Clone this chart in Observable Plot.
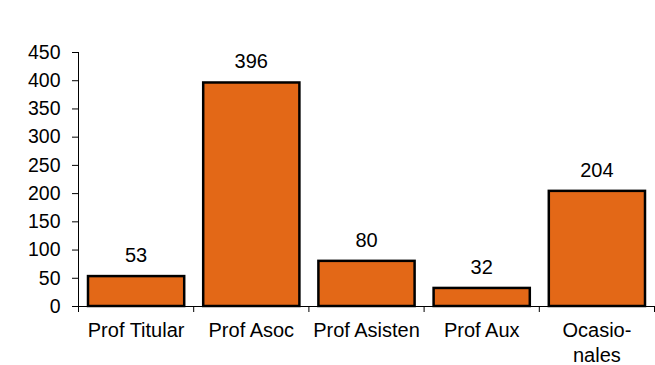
<!DOCTYPE html>
<html>
<head>
<meta charset="utf-8">
<script src="https://cdn.jsdelivr.net/npm/d3@7"></script>
<script src="https://cdn.jsdelivr.net/npm/@observablehq/plot@0.6"></script>
<style>
  html, body { margin: 0; padding: 0; background: #fff; }
  svg { font-family: "Liberation Sans", Arial, sans-serif; }
</style>
</head>
<body>
<div id="chart"></div>
<script>
const categories = ["Prof Titular", "Prof Asoc", "Prof Asisten", "Prof Aux", "Ocasio-\nnales"];
const values = [53, 396, 80, 32, 204];
const yTicks = [0, 50, 100, 150, 200, 250, 300, 350, 400, 450];

const data = categories.map((c, i) => ({cat: c, i, value: values[i]}));

const chart = Plot.plot({
  width: 655,
  height: 365,
  marginLeft: 78,
  marginRight: 1,
  marginTop: 52,
  marginBottom: 59,
  style: {fontSize: "20px", fontFamily: "'Liberation Sans', Arial, sans-serif", color: "#000", background: "#fff"},
  x: {type: "linear", domain: [0, categories.length], axis: null},
  y: {domain: [0, 450], axis: null},
  marks: [
    Plot.axisY({ticks: yTicks, tickSize: 6, tickPadding: 12, fontSize: 19.5, stroke: "#000", color: "#000", label: null}),
    Plot.axisX({ticks: d3.range(categories.length + 1), tickFormat: () => "", tickSize: 6, stroke: "#000", label: null}),
    Plot.rectY(data, {x1: d => d.i, x2: d => d.i + 1, y: "value", insetLeft: 10, insetRight: 9, fill: "#E36817", stroke: "#000", strokeWidth: 2.5}),
    Plot.ruleX([0], {stroke: "#000", strokeWidth: 1}),
    Plot.ruleY([0], {stroke: "#000", strokeWidth: 1}),
    Plot.text(data, {x: d => d.i + 0.5, y: "value", text: d => String(d.value), dy: -21, fontSize: 20, fill: "#000", lineAnchor: "middle"}),
    Plot.text(data, {x: d => d.i + 0.5, y: 0, text: "cat", dy: 13, lineAnchor: "top", lineHeight: 1.25, fontSize: 20, fill: "#000"})
  ]
});
document.getElementById("chart").appendChild(chart);
</script>
</body>
</html>
